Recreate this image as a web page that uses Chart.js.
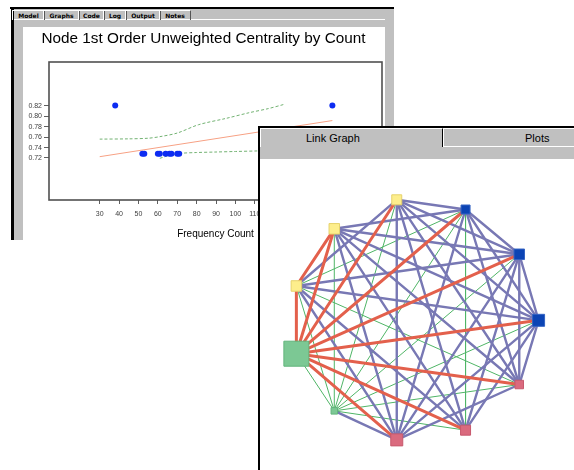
<!DOCTYPE html>
<html><head><meta charset="utf-8">
<script src="https://cdn.jsdelivr.net/npm/chart.js@4.4.0/dist/chart.umd.min.js"></script>
<style>
html,body{margin:0;padding:0;background:#fff;width:574px;height:470px;overflow:hidden;position:relative;font-family:"Liberation Sans",Arial,sans-serif;}
.a{position:absolute;box-sizing:border-box;}
.tab{position:absolute;top:10px;height:9px;font:bold 6px "DejaVu Sans",sans-serif;line-height:9px;text-align:center;color:#000;border-left:1px solid #fff;border-right:1px solid #555;border-top:1px solid #fff;}
</style></head><body>
<!-- left window -->
<div class="a" style="left:10px;top:7px;width:384px;height:2px;background:#000"></div>
<div class="a" style="left:11px;top:7px;width:3px;height:233px;background:#000"></div>
<div class="a" style="left:14px;top:9px;width:380px;height:231px;background:#c0c0c0"></div>
<div class="a" style="left:14px;top:19px;width:371px;height:1px;background:#fff"></div>
<div class="tab" style="left:12px;width:31px;">Model</div>
<div class="tab" style="left:43px;width:35px;">Graphs</div>
<div class="tab" style="left:78px;width:25px;">Code</div>
<div class="tab" style="left:103px;width:22px;">Log</div>
<div class="tab" style="left:125px;width:34px;">Output</div>
<div class="tab" style="left:159px;width:30px;">Notes</div>
<div class="a" style="left:23px;top:27px;width:362px;height:213px;background:#fff"></div>
<canvas id="c1" class="a" style="left:23px;top:27px" width="362" height="218"></canvas>
<!-- right window -->
<div class="a" style="left:258px;top:126px;width:316px;height:344px;background:#fff"></div>
<div class="a" style="left:258px;top:126px;width:316px;height:2px;background:#000"></div>
<div class="a" style="left:258px;top:126px;width:2px;height:344px;background:#000"></div>
<div class="a" style="left:260px;top:128px;width:314px;height:31px;background:#c0c0c0"></div>
<div class="a" style="left:260px;top:128px;width:183px;height:19px;border-top:1px solid #fff;border-left:1px solid #fff;border-right:1px solid #000;"></div>
<div class="a" style="left:443px;top:128px;width:131px;height:19px;border-top:1px solid #fff;border-left:1px solid #fff;border-bottom:1px solid #fff;"></div>
<div class="a" style="left:306px;top:131px;font-size:11px;line-height:14px;color:#000;white-space:nowrap">Link Graph</div>
<div class="a" style="left:525px;top:131px;font-size:11px;line-height:14px;color:#000;white-space:nowrap">Plots</div>
<canvas id="c2" class="a" style="left:261px;top:160px" width="313" height="310"></canvas>
<script>
// ---------- scatter chart data ----------
const freqCount  = [38, 52, 53, 60, 61, 64, 66, 67, 70, 71, 150];
const centrality = [0.821, 0.728, 0.728, 0.728, 0.728, 0.728, 0.728, 0.728, 0.728, 0.728, 0.821];
const fitX = [30, 150];
const fitY = [0.7225, 0.792];
const upperX = [30, 45, 55, 61, 70, 81, 95, 107, 117, 125];
const upperY = [0.7563, 0.7568, 0.758, 0.761, 0.768, 0.784, 0.796, 0.807, 0.815, 0.823];
const lowerX = [61, 66, 72, 80, 90, 100, 112];
const lowerY = [0.7194, 0.725, 0.729, 0.7305, 0.7315, 0.7325, 0.7336];
const xTickValues = [30, 40, 50, 60, 70, 80, 90, 100, 110, 120, 130, 140, 150];
const yTickValues = [0.72, 0.74, 0.76, 0.78, 0.80, 0.82];
const chartTitle = 'Node 1st Order Unweighted Centrality by Count';
const xTitle = 'Frequency Count';

// ---------- link graph data ----------
const nodeX = [-0.167, 0.399, 0.841, 1.000, 0.841, 0.399, -0.167, -0.681, -0.993, -0.993, -0.681];
const nodeY = [0.989, 0.909, 0.540, -0.004, -0.533, -0.909, -0.989, -0.750, -0.279, 0.279, 0.750];
const nodeWeight = [10, 9, 10.5, 12, 8.5, 10, 12, 6.5, 25, 10.5, 10.5];
const nodeGroup = ['Y','B','B','B','P','P','P','G','G','Y','Y'];
// strong links (red)
const strongFrom = [8, 8, 8, 8, 8, 8, 8, 8, 8, 9];
const strongTo   = [9,10, 0, 1, 2, 3, 4, 5, 6,10];
// medium links (blue)
const mediumFrom = [7, 0,0,0,0,0,0,0, 1,1,1,1,1, 2,2,2,2,2,2, 3,3,3,3,3, 4,4, 5,5, 6,6];
const mediumTo   = [6, 1,2,3,4,5,6,9, 2,3,4,6,10, 3,4,5,6,9,10, 4,5,6,9,10, 6,10, 9,10, 9,10];
// weak links (green)
const weakFrom = [8, 7,7,7,7,7,7,7,7, 1, 9, 1];
const weakTo   = [7, 0,1,2,3,4,5,9,10, 5, 4, 9];

// font detection for the narrow title face
function hasFont(name){
  const c=document.createElement('canvas').getContext('2d');
  const s='Node 1st Order Unweighted Centrality';
  c.font='20px monospace'; const w1=c.measureText(s).width;
  c.font='20px "'+name+'", monospace'; const w2=c.measureText(s).width;
  return Math.abs(w1-w2)>0.5;
}
const narrow = hasFont('Liberation Sans Narrow');
const titleFont = narrow ? {family:'"Liberation Sans Narrow"', size:18.5, weight:'normal'} : {family:'"Liberation Sans", Arial', size:15.3, weight:'normal'};

const boxPlugin = {
  id:'box',
  afterDraw(chart){
    const a=chart.chartArea, ctx=chart.ctx;
    ctx.save(); ctx.strokeStyle='#505050'; ctx.lineWidth=1.6;
    ctx.strokeRect(a.left, a.top, a.right-a.left, a.bottom-a.top);
    ctx.restore();
  }
};

const toPts=(xs,ys)=>xs.map((x,i)=>({x:x,y:ys[i]}));

new Chart(document.getElementById('c1'), {
  type:'scatter',
  data:{datasets:[
    {data:toPts(freqCount,centrality), pointRadius:3, pointHoverRadius:3, backgroundColor:'#0d2cf2', borderWidth:0, order:0},
    {data:toPts(fitX,fitY), showLine:true, borderColor:'#f7a184', borderWidth:1, pointRadius:0, order:1},
    {data:toPts(upperX,upperY), showLine:true, borderColor:'#72b272', borderWidth:1, borderDash:[3,2], pointRadius:0, tension:0.3, order:2},
    {data:toPts(lowerX,lowerY), showLine:true, borderColor:'#72b272', borderWidth:1, borderDash:[3,2], pointRadius:0, tension:0.3, order:2}
  ]},
  options:{
    responsive:false, animation:false, devicePixelRatio:1,
    layout:{padding:{left:0,right:1,top:0,bottom:0}},
    plugins:{legend:{display:false}, tooltip:{enabled:false},
      title:{display:true, text:chartTitle, color:'#000', font:titleFont, padding:{top:3,bottom:35-3-titleFont.size*1.2}}},
    scales:{
      x:{type:'linear', min:3.85, max:175.6,
        afterBuildTicks:s=>{s.ticks=xTickValues.map(v=>({value:v}));},
        afterFit:s=>{s.height=45;},
        ticks:{font:{size:7,family:'"Liberation Sans", Arial'}, color:'#404040', padding:6, maxRotation:0, autoSkip:false},
        grid:{drawOnChartArea:false, drawTicks:true, tickLength:4, color:'#606060'},
        border:{display:false},
        title:{display:true, text:xTitle, color:'#000', font:{size:10,family:'"Liberation Sans", Arial'}, padding:{top:0,bottom:5}}
      },
      y:{type:'linear', min:0.6392, max:0.9046,
        afterBuildTicks:s=>{s.ticks=yTickValues.map(v=>({value:v}));},
        afterFit:s=>{s.width=26;},
        ticks:{font:{size:7,family:'"Liberation Sans", Arial'}, color:'#404040', padding:2, callback:v=>v.toFixed(2)},
        grid:{drawOnChartArea:false, drawTicks:true, tickLength:5, color:'#606060'},
        border:{display:false}
      }
    }
  },
  plugins:[boxPlugin]
});

// ---------- link graph ----------
const groupFill = {Y:'#fdee8c', B:'#0c44b4', P:'#da6a7e', G:'#7cc894'};
const groupLine = {Y:'#e6d26c', B:'#3564c4', P:'#c85a6e', G:'#62b47c'};
function linkSets(from, to, color, width, order){
  return from.map((a,i)=>{
    const b=to[i];
    return {data:[{x:nodeX[a],y:nodeY[a]},{x:nodeX[b],y:nodeY[b]}], showLine:true,
      borderColor:color, borderWidth:width, pointRadius:0, order:order, borderCapStyle:'round'};
  });
}
const nodeSet = {
  data:toPts(nodeX,nodeY), pointStyle:'rect',
  pointRadius:nodeWeight.map(w=>w/Math.SQRT2), pointHoverRadius:nodeWeight.map(w=>w/Math.SQRT2),
  backgroundColor:nodeGroup.map(g=>groupFill[g]), borderColor:nodeGroup.map(g=>groupLine[g]),
  borderWidth:1, order:0
};
new Chart(document.getElementById('c2'), {
  type:'scatter',
  data:{datasets:[nodeSet]
    .concat(linkSets(strongFrom, strongTo, '#e3604c', 3, 1))
    .concat(linkSets(mediumFrom, mediumTo, '#7878b4', 2.4, 2))
    .concat(linkSets(weakFrom, weakTo, '#4fb566', 1, 3))},
  options:{
    responsive:false, animation:false, devicePixelRatio:1,
    layout:{padding:0},
    plugins:{legend:{display:false}, tooltip:{enabled:false}, title:{display:false}},
    scales:{
      x:{type:'linear', display:false, min:-1.1304, max:1.1377},
      y:{type:'linear', display:false, min:-1.0833, max:1.1630}
    }
  }
});
</script>
</body></html>
